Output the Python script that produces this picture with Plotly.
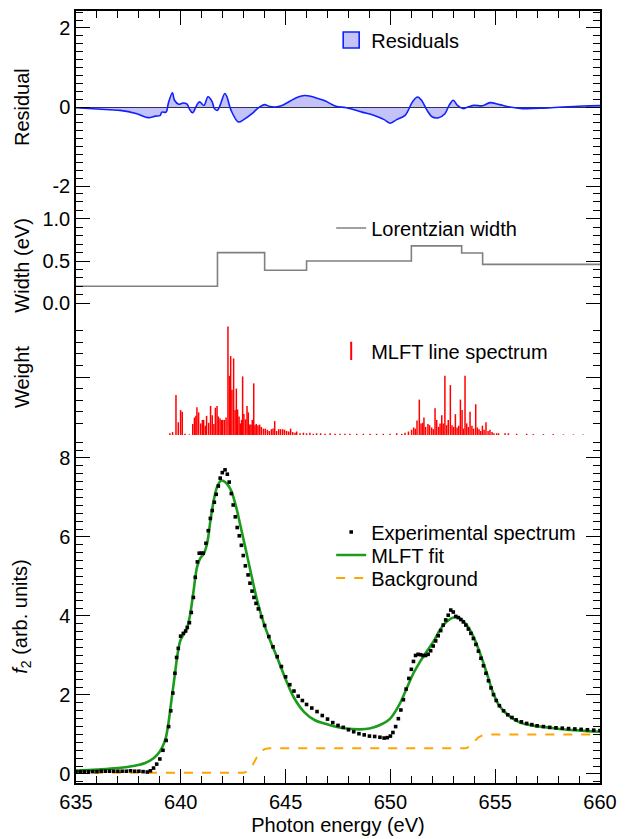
import plotly.graph_objects as go

# ---------------- data ----------------
# Residual panel
res_energy = [635.0, 636.6, 637.1, 637.9, 638.45, 638.8, 639.0, 639.1, 639.3, 639.4, 639.6, 639.7, 639.9,
              640.1, 640.3, 640.4, 640.56, 640.8, 640.9, 641.1, 641.3, 641.5, 641.6, 641.75, 641.9, 642.1,
              642.2, 642.4, 642.75, 643.0, 643.4, 643.7, 644.0, 644.2, 644.5, 644.8, 645.2, 645.6, 645.9,
              646.2, 646.5, 646.9, 647.4, 647.9, 648.65, 649.2, 649.7, 650.0, 650.3, 650.7, 650.85, 651.05,
              651.3, 651.5, 651.75, 652.0, 652.3, 652.6, 652.8, 653.0, 653.2, 653.45, 653.7, 654.0, 654.4,
              654.75, 655.2, 655.7, 656.3, 657.3, 658.2, 659.2, 660.0]
res_value = [-0.02, -0.07, -0.085, -0.17, -0.27, -0.23, -0.22, -0.13, -0.13, 0.085, 0.36, 0.17, 0.07,
             0.1, 0.07, -0.04, -0.145, 0.085, 0.13, 0.04, 0.26, 0.13, -0.04, -0.085, 0.08, 0.34,
             0.26, -0.085, -0.38, -0.32, -0.17, -0.02, 0.06, 0.02, 0.0, 0.03, 0.145, 0.255, 0.29,
             0.27, 0.22, 0.15, 0.017, -0.017, -0.13, -0.21, -0.32, -0.41, -0.32, -0.21, -0.085, 0.13,
             0.255, 0.16, -0.085, -0.255, -0.27, -0.17, 0.04, 0.17, 0.04, -0.04, 0.0, 0.04, 0.03,
             0.11, 0.06, 0.0, -0.04, -0.03, 0.0, 0.025, 0.035]

# Lorentzian width (step function edges)
width_edges = [635.0, 641.75, 644.0, 646.0, 651.0, 653.4, 654.4, 660.0]
width_values = [0.2, 0.6, 0.39, 0.5, 0.68, 0.595, 0.46]

# MLFT line spectrum (stick positions / weights)
line_energy = [639.48, 639.61, 639.77, 639.88, 639.99, 640.07, 640.2, 640.41, 640.57, 640.65, 640.72, 640.77,
               640.85, 640.95, 641.03, 641.09, 641.17, 641.23, 641.33, 641.42, 641.50, 641.58, 641.65, 641.73,
               641.79, 641.87, 641.93, 642.0, 642.08, 642.16, 642.25, 642.32, 642.38, 642.44, 642.52, 642.59,
               642.65, 642.71, 642.78, 642.84, 642.90, 642.95, 643.01, 643.09, 643.16, 643.22, 643.29, 643.35,
               643.41, 643.48, 643.54, 643.60, 643.68, 643.76, 643.84, 643.94, 644.03, 644.13, 644.22, 644.32,
               644.40, 644.48, 644.57, 644.67, 644.76, 644.86, 644.95, 645.05, 645.15, 645.24, 645.34, 645.45,
               645.53, 645.69, 645.85, 646.0, 646.16, 646.32, 646.48, 646.67, 646.88, 647.12, 647.36, 647.6,
               647.83, 648.07, 648.39, 648.71, 649.03, 649.34, 649.66, 649.98, 650.3, 650.54, 650.7, 650.86,
               651.01, 651.11, 651.19, 651.27, 651.38, 651.46, 651.54, 651.6, 651.68, 651.79, 651.87, 651.97,
               652.05, 652.13, 652.21, 652.30, 652.37, 652.45, 652.52, 652.6, 652.68, 652.76, 652.86, 652.94,
               653.02, 653.1, 653.18, 653.26, 653.34, 653.42, 653.49, 653.56, 653.64, 653.72, 653.8, 653.89,
               653.97, 654.07, 654.15, 654.23, 654.31, 654.39, 654.47, 654.56, 654.66, 654.75, 654.85, 654.94,
               655.07, 655.16, 655.47, 655.63, 656.02, 656.5, 656.82, 657.3, 657.77, 658.25, 658.73, 659.2]
line_weight = [0.03, 0.05, 0.69, 0.22, 0.43, 0.40, 0.02, 0.01, 0.19, 0.30, 0.33, 0.48,
               0.39, 0.20, 0.26, 0.26, 0.16, 0.33, 0.21, 0.50, 0.34, 0.19, 0.47, 0.50,
               0.32, 0.29, 0.26, 0.26, 0.26, 0.30, 1.87, 1.02, 1.36, 0.78, 1.32, 0.43,
               0.80, 0.44, 0.32, 0.20, 0.26, 1.01, 0.36, 0.27, 0.50, 0.39, 0.18, 0.18,
               0.26, 0.89, 0.17, 0.19, 0.17, 0.18, 0.14, 0.11, 0.11, 0.09, 0.07, 0.10,
               0.11, 0.24, 0.07, 0.10, 0.10, 0.10, 0.09, 0.07, 0.06, 0.11, 0.05, 0.04,
               0.06, 0.03, 0.04, 0.03, 0.04, 0.02, 0.03, 0.03, 0.02, 0.03, 0.02, 0.02,
               0.02, 0.02, 0.02, 0.02, 0.02, 0.02, 0.02, 0.02, 0.03, 0.02, 0.04, 0.06,
               0.09, 0.13, 0.11, 0.25, 0.61, 0.20, 0.21, 0.30, 0.14, 0.19, 0.17, 0.13,
               0.10, 0.46, 0.26, 0.14, 0.20, 0.34, 0.20, 1.02, 0.17, 0.26, 0.86, 0.17,
               0.14, 0.36, 0.13, 0.16, 0.61, 0.43, 0.11, 1.02, 0.20, 0.14, 0.40, 0.16,
               0.11, 0.53, 0.13, 0.10, 0.07, 0.16, 0.09, 0.22, 0.07, 0.09, 0.05, 0.03,
               0.03, 0.03, 0.03, 0.03, 0.02, 0.02, 0.015, 0.015, 0.015, 0.01, 0.01, 0.01]

# Experimental spectrum
exp_energy = [635.0, 635.2, 635.4, 635.6, 635.8, 636.0, 636.2, 636.4, 636.6, 636.8, 637.0, 637.2, 637.4,
              637.6, 637.8, 638.0, 638.2, 638.4, 638.55, 638.7, 638.85, 639.0, 639.15, 639.3, 639.42,
              639.52, 639.62, 639.72, 639.8, 639.88, 639.99, 640.12, 640.23, 640.31, 640.41, 640.5, 640.6,
              640.69, 640.79, 640.88, 640.98, 641.07, 641.2, 641.31, 641.41, 641.5, 641.6, 641.69, 641.79,
              641.88, 641.98, 642.11, 642.22, 642.31, 642.41, 642.5, 642.6, 642.69, 642.79, 642.89, 642.98,
              643.08, 643.21, 643.3, 643.4, 643.49, 643.59, 643.7, 643.85, 644.0, 644.2, 644.4, 644.6,
              644.8, 645.0, 645.2, 645.4, 645.6, 645.8, 646.0, 646.25, 646.5, 646.75, 647.0, 647.25,
              647.5, 647.75, 648.0, 648.25, 648.5, 648.75, 649.0, 649.25, 649.5, 649.7, 649.85, 650.0,
              650.12, 650.25, 650.38, 650.5, 650.62, 650.75, 650.88, 651.0, 651.1, 651.2, 651.32, 651.44,
              651.56, 651.68, 651.8, 651.92, 652.04, 652.16, 652.28, 652.4, 652.52, 652.64, 652.76, 652.88,
              653.0, 653.12, 653.24, 653.36, 653.48, 653.6, 653.72, 653.84, 653.96, 654.08, 654.2, 654.32,
              654.44, 654.56, 654.68, 654.8, 654.92, 655.05, 655.2, 655.4, 655.6, 655.8, 656.0, 656.25,
              656.5, 656.75, 657.0, 657.3, 657.6, 657.9, 658.2, 658.5, 658.8, 659.1, 659.4, 659.7, 660.0]
exp_value = [0.06, 0.06, 0.06, 0.06, 0.06, 0.06, 0.07, 0.07, 0.07, 0.07, 0.07, 0.07, 0.07,
             0.08, 0.07, 0.07, 0.06, 0.05, 0.08, 0.15, 0.25, 0.38, 0.60, 0.85, 1.20,
             1.60, 2.05, 2.55, 2.95, 3.18, 3.49, 3.56, 3.62, 3.71, 3.83, 4.09, 4.47,
             4.98, 5.37, 5.59, 5.59, 5.59, 5.84, 6.16, 6.47, 6.67, 6.88, 7.08, 7.29,
             7.49, 7.63, 7.70, 7.59, 7.39, 7.10, 6.81, 6.51, 6.24, 6.03, 5.79, 5.53,
             5.27, 5.04, 4.83, 4.63, 4.47, 4.32, 4.18, 3.98, 3.76, 3.48, 3.22, 2.97,
             2.72, 2.46, 2.26, 2.10, 1.97, 1.86, 1.76, 1.67, 1.58, 1.48, 1.39, 1.30,
             1.23, 1.18, 1.12, 1.07, 1.02, 0.99, 0.96, 0.95, 0.93, 0.91, 0.92, 0.96,
             1.05, 1.20, 1.40, 1.62, 1.88, 2.15, 2.42, 2.65, 2.85, 3.00, 3.03, 3.02,
             3.00, 3.00, 3.03, 3.12, 3.24, 3.37, 3.50, 3.63, 3.77, 3.90, 4.02, 4.15,
             4.10, 3.99, 3.96, 3.91, 3.85, 3.77, 3.67, 3.56, 3.43, 3.28, 3.11, 2.93,
             2.74, 2.55, 2.36, 2.18, 2.01, 1.86, 1.73, 1.60, 1.50, 1.43, 1.37, 1.32,
             1.28, 1.25, 1.22, 1.20, 1.18, 1.17, 1.16, 1.15, 1.14, 1.13, 1.12, 1.11, 1.10]

# MLFT fit
fit_energy = [635.0, 636.0, 637.0, 637.8, 638.3, 638.7, 639.0, 639.25, 639.4, 639.55, 639.7, 639.85, 639.98,
              640.15, 640.3, 640.45, 640.6, 640.78, 640.94, 641.1, 641.26, 641.42, 641.58, 641.74, 641.93,
              642.14, 642.38, 642.62, 642.86, 643.1, 643.34, 643.66, 643.98, 644.3, 644.62, 644.94, 645.4,
              645.9, 646.4, 646.9, 647.3, 647.9, 648.55, 649.0, 649.5, 650.0, 650.46, 650.78, 651.1, 651.41,
              651.73, 652.05, 652.37, 652.69, 653.0, 653.32, 653.64, 653.96, 654.28, 654.6, 654.91, 655.23,
              655.71, 656.19, 656.83, 657.78, 658.74, 660.0]
fit_value = [0.08, 0.11, 0.15, 0.21, 0.28, 0.40, 0.57, 0.85, 1.25, 1.85, 2.45, 3.05, 3.38,
             3.55, 3.70, 4.05, 4.60, 5.25, 5.47, 5.58, 5.85, 6.44, 6.95, 7.28, 7.43,
             7.38, 7.20, 6.80, 6.25, 5.68, 5.10, 4.36, 3.78, 3.33, 2.92, 2.48, 1.93,
             1.56, 1.36, 1.27, 1.21, 1.15, 1.13, 1.15, 1.24, 1.41, 1.79, 2.17, 2.55, 2.84,
             3.10, 3.35, 3.65, 3.86, 3.96, 3.94, 3.77, 3.48, 3.05, 2.55, 2.04, 1.70,
             1.45, 1.30, 1.22, 1.16, 1.11, 1.07]

# Background
bg_energy = [635.0, 643.0, 643.2, 643.4, 643.6, 643.8, 644.0, 644.2, 653.6, 653.8, 654.0, 654.2, 654.4, 654.6, 660.0]
bg_value = [0.03, 0.03, 0.07, 0.2, 0.4, 0.56, 0.63, 0.65, 0.65, 0.7, 0.82, 0.93, 0.98, 1.0, 1.0]

# axis tick labels
res_ticks = [-2, 0, 2]
res_ticklabels = ["-2", "0", "2"]
width_ticks = [0, 0.5, 1.0]
width_ticklabels = ["0.0", "0.5", "1.0"]

# ---------------- figure ----------------
FONT = "Liberation Sans, Arial, sans-serif"
FS = 20
RES_FILL = "rgba(40,40,235,0.28)"
fig = go.Figure()

# residuals
fig.add_trace(go.Scatter(x=res_energy, y=res_value, mode="lines", line=dict(color="#1020ff", width=1.6, shape="spline"),
                         fill="tozeroy", fillcolor=RES_FILL, showlegend=False,
                         xaxis="x", yaxis="y4"))
fig.add_trace(go.Scatter(x=[None], y=[None], mode="markers", name="Residuals",
                         marker=dict(symbol="square", size=16, color="#c4c4f8", line=dict(color="#1020ff", width=1.6)),
                         xaxis="x", yaxis="y4", legend="legend"))

# width step
wx, wy = [], []
for i, v in enumerate(width_values):
    wx += [width_edges[i], width_edges[i + 1]]
    wy += [v, v]
fig.add_trace(go.Scatter(x=wx, y=wy, mode="lines", line=dict(color="#808080", width=1.6),
                         name="Lorentzian width", xaxis="x", yaxis="y3", legend="legend2"))

# line spectrum sticks
sx, sy = [], []
for e, w in zip(line_energy, line_weight):
    sx += [e, e, None]
    sy += [0, w, None]
fig.add_trace(go.Scatter(x=sx, y=sy, mode="lines", line=dict(color="#ff0000", width=1.5),
                         showlegend=False, xaxis="x", yaxis="y2"))
fig.add_trace(go.Scatter(x=[None], y=[None], mode="markers", name="MLFT line spectrum",
                         marker=dict(symbol="line-ns", size=13, line=dict(color="#ff0000", width=2)),
                         xaxis="x", yaxis="y2", legend="legend3"))

# main panel
fig.add_trace(go.Scatter(x=bg_energy, y=bg_value, mode="lines", line=dict(color="#ffa500", width=2, dash="dash"),
                         name="Background", xaxis="x", yaxis="y", legend="legend6"))
fig.add_trace(go.Scatter(x=fit_energy, y=fit_value, mode="lines", line=dict(color="#1c9c1c", width=2.6, shape="spline"),
                         name="MLFT fit", xaxis="x", yaxis="y", legend="legend5"))
fig.add_trace(go.Scatter(x=exp_energy, y=exp_value, mode="markers",
                         marker=dict(symbol="square", size=3.6, color="black"),
                         name="Experimental spectrum", xaxis="x", yaxis="y", legend="legend4"))

# dummy trace for top mirror axis
fig.add_trace(go.Scatter(x=[635], y=[0], mode="markers", marker=dict(opacity=0), showlegend=False,
                         hoverinfo="skip", xaxis="x2", yaxis="y4"))

tickfont = dict(family=FONT, size=FS, color="black")
minor_style = dict(ticks="inside", ticklen=7, tickwidth=1.3, tickcolor="black")
common_y = dict(showline=True, linecolor="black", linewidth=1.5, mirror="ticks", ticks="inside",
                ticklen=14, tickwidth=1.3, tickcolor="black", showgrid=False,
                tickfont=tickfont, anchor="x")

D_MAIN = 348 / 772
D_WEIGHT = 464 / 772
D_WIDTH = 580 / 772

fig.update_layout(
    width=630, height=839,
    margin=dict(l=68, r=38, t=3, b=64),
    paper_bgcolor="white", plot_bgcolor="white",
    font=dict(family=FONT, size=FS, color="black"),
    xaxis=dict(range=[635, 660], domain=[0, 1], anchor="y", showline=True, linecolor="black", linewidth=1.5,
               ticks="inside", ticklen=14, tickwidth=1.3, tickcolor="black", dtick=5, tick0=635,
               minor=dict(dtick=1, **minor_style),
               showgrid=False, zeroline=False, tickfont=tickfont,
               title=dict(text="Photon energy (eV)", font=dict(family=FONT, size=FS), standoff=6)),
    xaxis2=dict(range=[635, 660], domain=[0, 1], anchor="y4", side="top", overlaying="x", showline=True,
                linecolor="black", linewidth=1.5, ticks="inside", ticklen=14, tickwidth=1.3, tickcolor="black",
                dtick=5, tick0=635, showticklabels=False,
                minor=dict(dtick=1, **minor_style),
                showgrid=False, zeroline=False),
    yaxis=dict(domain=[0, D_MAIN], range=[-0.228, 8.582], dtick=2, tick0=0, zeroline=False,
               minor=dict(dtick=0.2, **minor_style), **common_y),
    yaxis2=dict(domain=[D_MAIN, D_WEIGHT], range=[0, 2], dtick=1, tick0=0, showticklabels=False, zeroline=False,
                minor=dict(dtick=0.2, **minor_style), **common_y),
    yaxis3=dict(domain=[D_WEIGHT, D_WIDTH], range=[-0.19, 1.19], tickvals=width_ticks,
                ticktext=width_ticklabels, zeroline=False,
                minor=dict(tickvals=[0.1, 0.2, 0.3, 0.4, 0.6, 0.7, 0.8, 0.9, 1.1], **minor_style),
                **common_y),
    yaxis4=dict(domain=[D_WIDTH, 1], range=[-2.43, 2.43], tickvals=res_ticks, ticktext=res_ticklabels,
                zeroline=True, zerolinecolor="#333333", zerolinewidth=1,
                minor=dict(dtick=0.2, **minor_style), **common_y),
    showlegend=True,
)

leg_common = dict(bgcolor="rgba(0,0,0,0)", borderwidth=0, font=dict(family=FONT, size=FS, color="black"),
                  xanchor="left", yanchor="top", x=0.487)
fig.update_layout(
    legend=dict(y=0.9877, **leg_common),
    legend2=dict(y=0.7442, **leg_common),
    legend3=dict(y=0.5849, **leg_common),
    legend4=dict(y=0.3504, **leg_common),
    legend5=dict(y=0.3206, **leg_common),
    legend6=dict(y=0.2908, **leg_common),
)

# y-axis titles
titles = [("Residual", (D_WIDTH + 1) / 2),
          ("Width (eV)", (D_WEIGHT + D_WIDTH) / 2 - 0.006),
          ("Weight", (D_MAIN + D_WEIGHT) / 2),
          ("<i>f</i><sub>2</sub> (arb. units)", D_MAIN / 2 - 0.01)]
for txt, yy in titles:
    fig.add_annotation(text=txt, xref="paper", yref="paper", x=-0.103, y=yy, textangle=-90,
                       showarrow=False, xanchor="center", yanchor="middle",
                       font=dict(family=FONT, size=FS, color="black"))

fig.write_html("out.html")
